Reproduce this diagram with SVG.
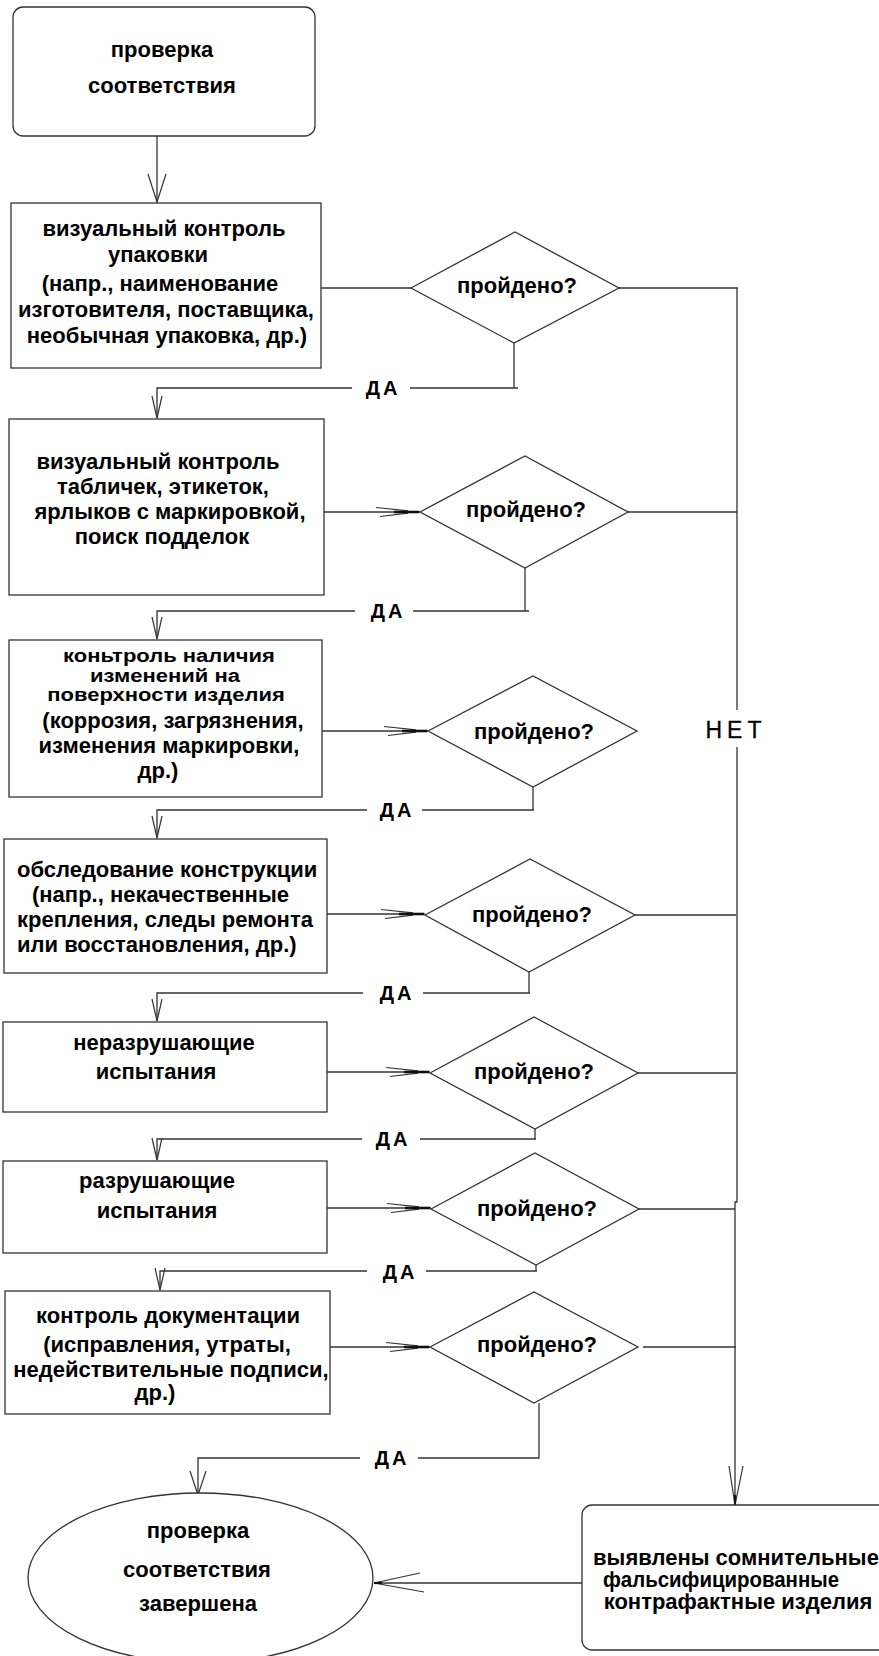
<svg xmlns="http://www.w3.org/2000/svg" width="879" height="1656" viewBox="0 0 879 1656">
<style>
.box{fill:#fff;stroke:#333;stroke-width:1.3}
.ln{fill:none;stroke:#333;stroke-width:1.3}
.t{font-family:"Liberation Sans",Arial,sans-serif;font-weight:bold;font-size:22px;fill:#000;text-anchor:middle}
.ts{text-anchor:start}
.lbl{font-family:"Liberation Sans",Arial,sans-serif;font-weight:bold;font-size:20px;fill:#000;letter-spacing:3px;text-anchor:middle}
.net{font-family:"Liberation Sans",Arial,sans-serif;font-size:23px;fill:#000;letter-spacing:5px;text-anchor:middle;stroke:#000;stroke-width:0.3}
.mk{fill:none;stroke:#333;stroke-width:1.2}
</style>
<defs>
<marker id="dbl" markerUnits="userSpaceOnUse" orient="auto" viewBox="-46 -7 48 14" refX="0" refY="0" markerWidth="48" markerHeight="14" overflow="visible">
<path class="mk" d="M-44,-4.5 L-12,-1.2 M-40,4.5 L-12,1.2"/>
<path d="M-26,0 L-1,0" stroke="#111" stroke-width="2.6" fill="none"/>
</marker>
<marker id="vsm" markerUnits="userSpaceOnUse" orient="auto" viewBox="-30 -10 32 20" refX="0" refY="0" markerWidth="32" markerHeight="20" overflow="visible">
<path class="mk" d="M-22,-5 L0,0 L-22,5"/>
</marker>
<marker id="vbig" markerUnits="userSpaceOnUse" orient="auto" viewBox="-30 -10 32 20" refX="0" refY="0" markerWidth="32" markerHeight="20" overflow="visible">
<path class="mk" d="M-28,-9 L0,0 L-28,9"/>
</marker>
<marker id="vend" markerUnits="userSpaceOnUse" orient="auto" viewBox="-30 -10 32 20" refX="0" refY="0" markerWidth="32" markerHeight="20" overflow="visible">
<path class="mk" d="M-24,-8 L0,0 L-24,8"/>
</marker>
<marker id="vlong" markerUnits="userSpaceOnUse" orient="auto" viewBox="-42 -10 44 20" refX="0" refY="0" markerWidth="44" markerHeight="20" overflow="visible">
<path class="mk" d="M-39,-8 L0,0 L-39,6"/>
<path d="M-10,0 L0,0" stroke="#111" stroke-width="2.2"/>
</marker>
<marker id="vwide" markerUnits="userSpaceOnUse" orient="auto" viewBox="-52 -12 54 24" refX="0" refY="0" markerWidth="54" markerHeight="24" overflow="visible">
<path class="mk" d="M-50,-9 L0,0 L-46,10"/>
<path d="M-8,0 L0,0" stroke="#111" stroke-width="2.2"/>
</marker>
</defs>

<g id="connectors">
<path class="ln" d="M157,136 V202" marker-end="url(#vbig)"/>
<path class="ln" d="M321,288 H411"/>
<path class="ln" d="M514,343 V388"/>
<path class="ln" d="M518,388 H410"/>
<path class="ln" d="M352,388 H157 V418" marker-end="url(#vsm)"/>
<path class="ln" d="M619,288 H738"/>
<path class="ln" d="M324,512 H420" marker-end="url(#dbl)"/>
<path class="ln" d="M628,512 H737"/>
<path class="ln" d="M525,568 V611"/>
<path class="ln" d="M529,611 H413"/>
<path class="ln" d="M355,611 H157 V639" marker-end="url(#vsm)"/>
<path class="ln" d="M322,731 H428" marker-end="url(#dbl)"/>
<path class="ln" d="M533,787 V810"/>
<path class="ln" d="M534,810 H422"/>
<path class="ln" d="M367,810 H157 V838" marker-end="url(#vsm)"/>
<path class="ln" d="M327,914 H425" marker-end="url(#dbl)"/>
<path class="ln" d="M635,915 H736"/>
<path class="ln" d="M529,972 V993"/>
<path class="ln" d="M530,993 H423"/>
<path class="ln" d="M363,993 H157 V1021" marker-end="url(#vsm)"/>
<path class="ln" d="M327,1072 H430" marker-end="url(#dbl)"/>
<path class="ln" d="M638,1073 H736"/>
<path class="ln" d="M535,1129 V1139"/>
<path class="ln" d="M536,1139 H420"/>
<path class="ln" d="M362,1139 H157 V1160" marker-end="url(#vsm)"/>
<path class="ln" d="M327,1208 H431" marker-end="url(#dbl)"/>
<path class="ln" d="M639,1209 H735"/>
<path class="ln" d="M536,1265 V1271"/>
<path class="ln" d="M537,1271 H426"/>
<path class="ln" d="M367,1271 H160 V1290" marker-end="url(#vsm)"/>
<path class="ln" d="M330,1347 H430" marker-end="url(#dbl)"/>
<path class="ln" d="M643,1347 H736"/>
<path class="ln" d="M539,1403 V1458 H418"/>
<path class="ln" d="M360,1458 H198 V1495" marker-end="url(#vend)"/>
<path class="ln" d="M737,288 V710"/>
<path class="ln" d="M737,747 V1202 H735 V1505" marker-end="url(#vlong)"/>
<path class="ln" d="M582,1583 H374" marker-end="url(#vwide)"/>
<text class="lbl" x="383" y="395">ДА</text>
<text class="lbl" x="388" y="618">ДА</text>
<text class="lbl" x="397" y="817">ДА</text>
<text class="lbl" x="397" y="1000">ДА</text>
<text class="lbl" x="393" y="1146">ДА</text>
<text class="lbl" x="400" y="1279">ДА</text>
<text class="lbl" x="392" y="1465">ДА</text>
<text class="net" x="736" y="738">НЕТ</text>
</g>

<g id="start">
<rect class="box" x="13" y="7" width="302" height="129" rx="10"/>
<text class="t" x="162" y="57">проверка</text>
<text class="t" x="162" y="93">соответствия</text>
</g>

<g id="box1">
<rect class="box" x="11" y="203" width="310" height="165"/>
<text class="t" x="164" y="236">визуальный контроль</text>
<text class="t" x="158" y="262">упаковки</text>
<text class="t" x="160" y="291">(напр., наименование</text>
<text class="t" x="166" y="317">изготовителя, поставщика,</text>
<text class="t" x="167" y="343">необычная упаковка, др.)</text>
</g>

<g id="d1">
<polygon class="box" points="411,288 515,232 619,288 514,343"/>
<text class="t" x="517" y="293">пройдено?</text>
</g>

<g id="box2">
<rect class="box" x="9" y="419" width="315" height="176"/>
<text class="t" x="158" y="469">визуальный контроль</text>
<text class="t" x="163" y="494">табличек, этикеток,</text>
<text class="t" x="170" y="519">ярлыков с маркировкой,</text>
<text class="t" x="162" y="544">поиск подделок</text>
</g>

<g id="d2">
<polygon class="box" points="420,512 525,456 628,512 525,568"/>
<text class="t" x="526" y="517">пройдено?</text>
</g>

<g id="box3">
<rect class="box" x="9" y="640" width="313" height="157"/>
<text class="t" transform="translate(169,662) scale(1,0.85)">коньтроль наличия</text>
<text class="t" transform="translate(165,682) scale(1,0.85)">изменений на</text>
<text class="t" transform="translate(166,701) scale(1,0.85)">поверхности изделия</text>
<text class="t" x="173" y="728">(коррозия, загрязнения,</text>
<text class="t" x="169" y="753">изменения маркировки,</text>
<text class="t" x="158" y="778">др.)</text>
</g>

<g id="d3">
<polygon class="box" points="428,731 533,676 637,731 533,787"/>
<text class="t" x="534" y="739">пройдено?</text>
</g>

<g id="box4">
<rect class="box" x="4" y="839" width="323" height="134"/>
<text class="t ts" x="17" y="877">обследование конструкции</text>
<text class="t ts" x="32" y="902">(напр., некачественные</text>
<text class="t ts" x="17" y="927">крепления, следы ремонта</text>
<text class="t ts" x="17" y="952">или восстановления, др.)</text>
</g>

<g id="d4">
<polygon class="box" points="425,915 530,859 635,915 529,972"/>
<text class="t" x="532" y="922">пройдено?</text>
</g>

<g id="box5">
<rect class="box" x="3" y="1022" width="324" height="90"/>
<text class="t" x="164" y="1050">неразрушающие</text>
<text class="t" x="156" y="1079">испытания</text>
</g>

<g id="d5">
<polygon class="box" points="430,1073 534,1017 638,1073 535,1129"/>
<text class="t" x="534" y="1079">пройдено?</text>
</g>

<g id="box6">
<rect class="box" x="3" y="1161" width="324" height="92"/>
<text class="t" x="157" y="1188">разрушающие</text>
<text class="t" x="157" y="1218">испытания</text>
</g>

<g id="d6">
<polygon class="box" points="431,1209 535,1153 639,1209 536,1265"/>
<text class="t" x="537" y="1216">пройдено?</text>
</g>

<g id="box7">
<rect class="box" x="5" y="1291" width="325" height="123"/>
<text class="t" x="168" y="1323">контроль документации</text>
<text class="t" x="167" y="1352">(исправления, утраты,</text>
<text class="t" x="171" y="1377">недействительные подписи,</text>
<text class="t" x="155" y="1400">др.)</text>
</g>

<g id="d7">
<polygon class="box" points="430,1347 534,1292 638,1347 534,1403"/>
<text class="t" x="537" y="1352">пройдено?</text>
</g>

<g id="end">
<ellipse class="box" cx="200.5" cy="1578" rx="172.5" ry="85"/>
<text class="t" x="198" y="1538">проверка</text>
<text class="t" x="197" y="1577">соответствия</text>
<text class="t" x="198" y="1611">завершена</text>
</g>

<g id="fake">
<rect class="box" x="582" y="1505" width="320" height="145" rx="10"/>
<text class="t" x="736" y="1565">выявлены сомнительные</text>
<text class="t" x="721" y="1587" textLength="236" lengthAdjust="spacingAndGlyphs">фальсифицированные</text>
<text class="t" x="738" y="1609">контрафактные изделия</text>
</g>
</svg>
